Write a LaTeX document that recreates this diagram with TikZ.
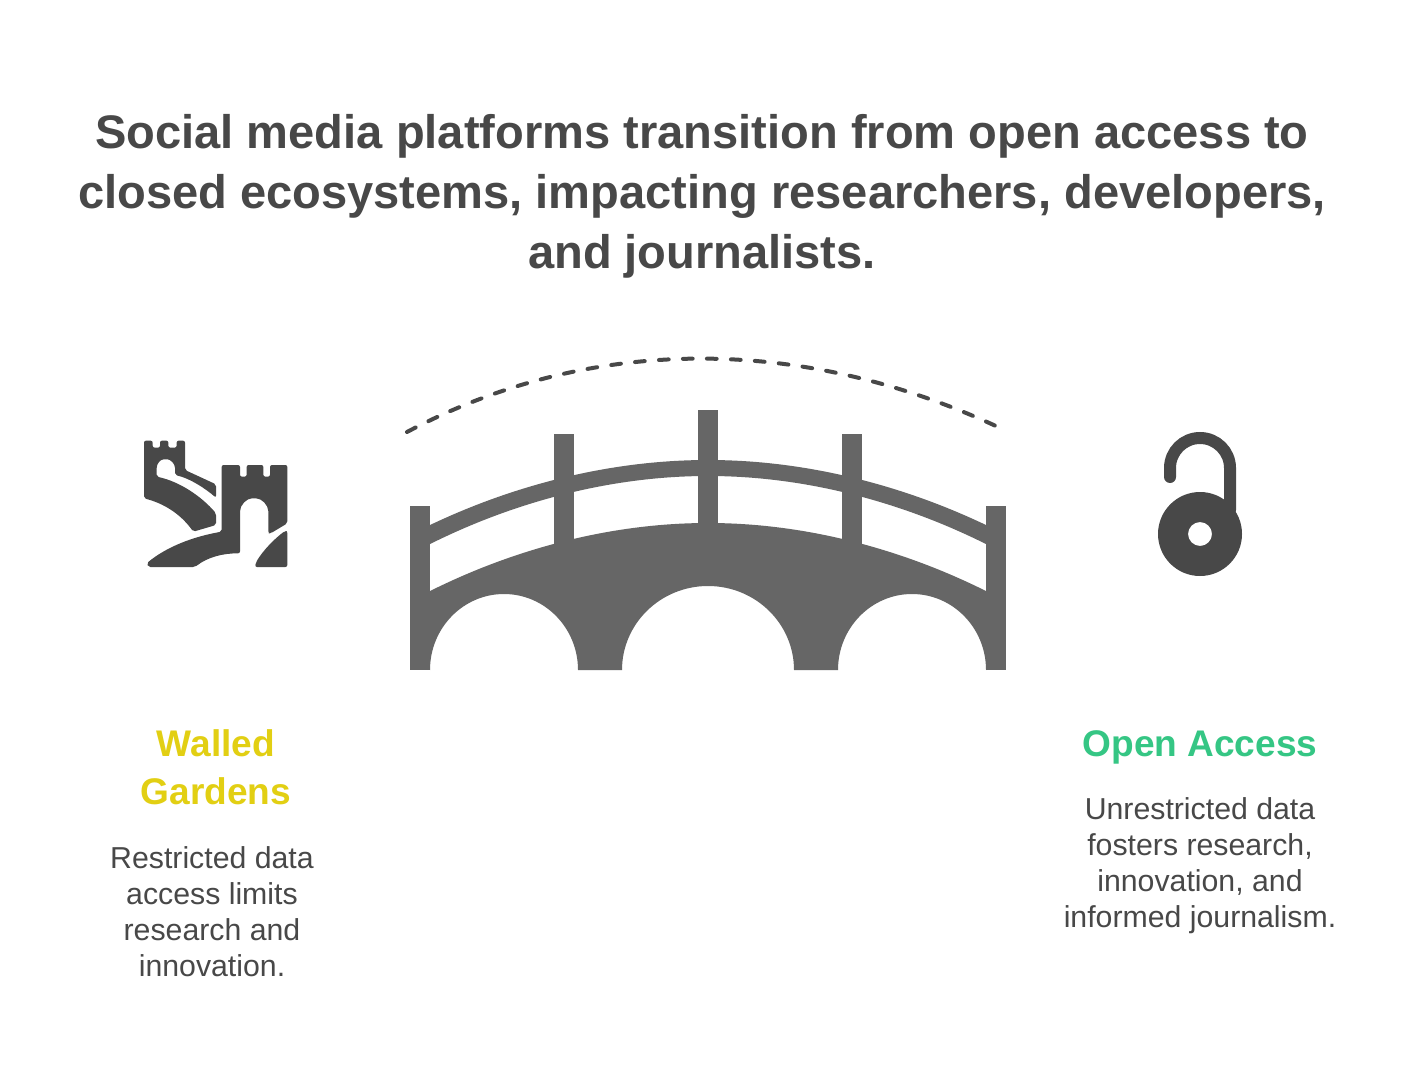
\documentclass[tikz,border=0pt]{standalone}
\usepackage{fontspec}
\setmainfont{Liberation Sans}
\definecolor{inkgray}{HTML}{484848}
\definecolor{bridgegray}{HTML}{666666}
\definecolor{walledyellow}{HTML}{E2CF13}
\definecolor{opengreen}{HTML}{35C684}
\tikzset{
  titletext/.style={text=inkgray,font=\fontsize{35.3}{45}\selectfont\bfseries,align=center},
  headtext/.style={font=\fontsize{27.8}{36}\selectfont\bfseries,align=center},
  bodytext/.style={text=inkgray,font=\fontsize{22.7}{27}\selectfont,align=center}
}
\begin{document}
\begin{tikzpicture}[x=0.75pt,y=-0.75pt]
  \fill[white] (0,0) rectangle (1416,1080);
  \useasboundingbox (0,0) rectangle (1416,1080);
  \node[titletext] (title) at (702,196) {Social media platforms transition from open access to\\closed ecosystems, impacting researchers, developers,\\and journalists.};
  % bridge
  \fill[bridgegray] (430,591) parabola bend (708,523) (986,591) -- (986,670)
    arc[start angle=0,end angle=-180,x radius=74,y radius=76] -- (794,670)
    arc[start angle=0,end angle=-180,x radius=86,y radius=84] -- (578,670)
    arc[start angle=0,end angle=-180,x radius=74,y radius=76] -- cycle;
  \fill[bridgegray] (430,525) parabola bend (708,460) (986,525) -- (986,544)
    parabola bend (708,476) (430,544) -- cycle;
  \foreach \x/\y/\yend in {410/506/670,554/434/560,698/410/540,842/434/560,986/506/670} {
    \fill[bridgegray] (\x,\y) rectangle (\x+20,\yend);
  }
  \draw[inkgray,line width=3pt,line cap=round,dash pattern=on 7.3pt off 10.7pt]
    (407,432) .. controls (590,335) and (800,335) .. (998,427);
  % wall icon
  \begin{scope}[shift={(130,425)},scale=1/3]
    \fill[inkgray,rounded corners=1.5pt] (42,47) -- (68,47) -- (68,68) -- (90,68) -- (90,47) -- (115,47)
      -- (115,68) -- (140,68) -- (140,47) -- (165,47) -- (165,135) -- (258,178) -- (258,218)
      .. controls (225,190) and (180,160) .. (135,150) -- (135,135)
      .. controls (135,115) and (120,103) .. (107,103) .. controls (92,103) and (80,115) .. (80,135)
      -- (80,155) .. controls (150,170) and (215,215) .. (258,265) -- (258,300) -- (190,320)
      .. controls (150,265) and (100,235) .. (42,220) -- cycle;
    \fill[inkgray,rounded corners=1.5pt] (275,120) -- (330,120) -- (330,155) -- (350,155) -- (350,120)
      -- (400,120) -- (400,155) -- (420,155) -- (420,120) -- (472,120) -- (472,295) -- (422,325)
      -- (415,325) -- (415,265) .. controls (415,240) and (395,220) .. (372,220)
      .. controls (350,220) and (330,240) .. (330,265) -- (330,385)
      .. controls (280,385) and (235,395) .. (195,426) -- (55,426) -- (50,415)
      .. controls (110,365) and (190,335) .. (275,320) -- cycle;
    \fill[inkgray,rounded corners=1.5pt] (472,318) -- (472,426) -- (375,426) -- (378,412)
      .. controls (400,375) and (435,340) .. (465,318) -- cycle;
  \end{scope}
  % lock icon
  \draw[inkgray,line width=9pt,line cap=round] (1170,477) -- (1170,468)
    arc[start angle=180,end angle=360,radius=30] -- (1230,510);
  \fill[inkgray,even odd rule] (1200,534) circle[radius=42] (1200,534) circle[radius=12];
  % labels
  \node[headtext,text=walledyellow] (walled) at (216,767) {Walled\\Gardens};
  \node[bodytext] (walledtext) at (212,912) {Restricted data\\access limits\\research and\\innovation.};
  \node[headtext,text=opengreen] (open) at (1200,747) {Open Access};
  \node[bodytext] (opentext) at (1200,866) {Unrestricted data\\fosters research,\\innovation, and\\informed journalism.};
\end{tikzpicture}
\end{document}
